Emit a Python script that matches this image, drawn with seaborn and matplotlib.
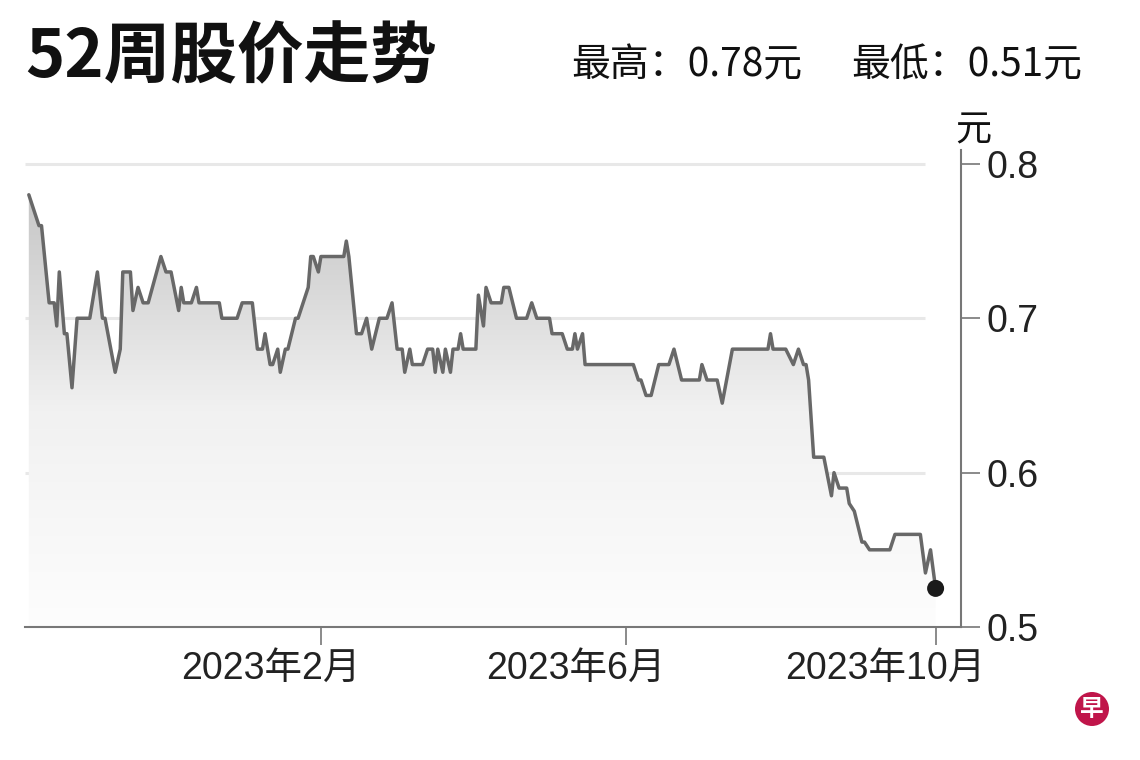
import numpy as np
import pandas as pd
import matplotlib
matplotlib.use("Agg")
import matplotlib.pyplot as plt
import matplotlib.dates as mdates
from matplotlib.patches import Ellipse
from matplotlib.colors import LinearSegmentedColormap
from matplotlib.transforms import ScaledTranslation
import seaborn as sns

# values
dates = [
    "2022-10-09", "2022-10-13", "2022-10-14", "2022-10-17", "2022-10-19", "2022-10-20",
    "2022-10-21", "2022-10-23", "2022-10-24", "2022-10-26", "2022-10-28",
    "2022-11-02", "2022-11-03", "2022-11-05", "2022-11-07", "2022-11-08", "2022-11-12",
    "2022-11-14", "2022-11-15", "2022-11-18", "2022-11-19", "2022-11-21", "2022-11-23",
    "2022-11-25", "2022-11-30",
    "2022-12-02", "2022-12-04", "2022-12-07", "2022-12-08", "2022-12-09", "2022-12-12",
    "2022-12-14", "2022-12-15", "2022-12-23", "2022-12-24", "2022-12-30",
    "2023-01-01", "2023-01-05", "2023-01-07", "2023-01-09", "2023-01-10", "2023-01-12",
    "2023-01-13", "2023-01-15", "2023-01-16", "2023-01-18", "2023-01-19", "2023-01-22",
    "2023-01-23", "2023-01-27", "2023-01-28", "2023-01-29", "2023-01-31",
    "2023-02-01", "2023-02-10", "2023-02-11", "2023-02-12", "2023-02-15", "2023-02-17",
    "2023-02-19", "2023-02-21", "2023-02-24", "2023-02-27",
    "2023-03-01", "2023-03-03", "2023-03-05", "2023-03-06", "2023-03-08", "2023-03-09",
    "2023-03-13", "2023-03-15", "2023-03-17", "2023-03-18", "2023-03-19", "2023-03-21",
    "2023-03-22", "2023-03-24", "2023-03-25", "2023-03-27", "2023-03-28", "2023-03-29",
    "2023-04-03", "2023-04-04", "2023-04-06", "2023-04-07", "2023-04-09", "2023-04-13",
    "2023-04-14", "2023-04-16", "2023-04-19", "2023-04-23", "2023-04-25", "2023-04-27",
    "2023-05-02", "2023-05-03", "2023-05-07", "2023-05-09", "2023-05-11", "2023-05-12",
    "2023-05-13", "2023-05-15", "2023-05-16",
    "2023-06-04", "2023-06-06", "2023-06-07", "2023-06-09", "2023-06-11", "2023-06-14",
    "2023-06-18", "2023-06-20", "2023-06-23", "2023-06-30",
    "2023-07-01", "2023-07-03", "2023-07-07", "2023-07-09", "2023-07-13", "2023-07-27",
    "2023-07-28", "2023-07-29",
    "2023-08-03", "2023-08-06", "2023-08-08", "2023-08-10", "2023-08-11", "2023-08-12",
    "2023-08-14", "2023-08-16", "2023-08-18", "2023-08-21", "2023-08-22", "2023-08-24",
    "2023-08-27", "2023-08-28", "2023-08-30",
    "2023-09-02", "2023-09-03", "2023-09-05", "2023-09-13", "2023-09-15", "2023-09-25",
    "2023-09-27", "2023-09-29", "2023-10-01",
]
prices = [
    0.78, 0.76, 0.76, 0.71, 0.71, 0.695, 0.73, 0.69, 0.69, 0.655,
    0.70, 0.70, 0.71, 0.73, 0.70, 0.70, 0.665, 0.68, 0.73, 0.73,
    0.705, 0.72, 0.71, 0.71, 0.74, 0.73, 0.73, 0.705, 0.72, 0.71,
    0.71, 0.72, 0.71, 0.71, 0.70, 0.70, 0.71, 0.71, 0.68, 0.68,
    0.69, 0.67, 0.67, 0.68, 0.665, 0.68, 0.68, 0.70, 0.70, 0.72,
    0.74, 0.74, 0.73, 0.74, 0.74, 0.75, 0.74, 0.69, 0.69, 0.70,
    0.68, 0.70, 0.70, 0.71, 0.68, 0.68, 0.665, 0.68, 0.67, 0.67,
    0.68, 0.68, 0.665, 0.68, 0.665, 0.68, 0.665, 0.68, 0.68, 0.69,
    0.68, 0.68, 0.715, 0.695, 0.72, 0.71, 0.71, 0.72, 0.72, 0.70,
    0.70, 0.71, 0.70, 0.70, 0.69, 0.69, 0.68, 0.68, 0.69, 0.68,
    0.69, 0.67, 0.67, 0.66, 0.66, 0.65, 0.65, 0.67, 0.67, 0.68,
    0.66, 0.66, 0.67, 0.66, 0.66, 0.645, 0.68, 0.68, 0.69, 0.68,
    0.68, 0.67, 0.68, 0.67, 0.67, 0.66, 0.61, 0.61, 0.61, 0.585,
    0.60, 0.59, 0.59, 0.58, 0.575, 0.555, 0.555, 0.55, 0.55, 0.56,
    0.56, 0.535, 0.55, 0.525,
]
y_ticks = [0.5, 0.6, 0.7, 0.8]
x_tick_dates = ["2023-02-01", "2023-06-01", "2023-10-01"]
x_tick_labels = ["2023年2月", "2023年6月", "2023年10月"]
title = "52周股价走势"
high_text = "最高：0.78元"
low_text = "最低：0.51元"
unit = "元"

df = pd.DataFrame({"date": pd.to_datetime(dates), "price": prices})

sns.set_style("white")
plt.rcParams["font.family"] = ["Liberation Sans", "Noto Sans CJK SC", "DejaVu Sans"]

fig = plt.figure(figsize=(11.4, 7.6), dpi=100)
ax = fig.add_axes([25 / 1140, 1 - 627 / 760, 936 / 1140, 477 / 760])

x0 = pd.Timestamp("2022-10-07 12:00")
x1 = pd.Timestamp("2023-10-11")
ax.set_xlim(x0, x1)
ax.set_ylim(0.5, 0.809)

# gradient under the line
grey = LinearSegmentedColormap.from_list("g", ["#fdfdfd", "#f1f1f1", "#c6c6c6"])
grad = np.linspace(0, 1, 256).reshape(-1, 1)
img = ax.imshow(grad, cmap=grey, origin="lower", aspect="auto",
                extent=[mdates.date2num(x0), mdates.date2num(x1), 0.5, 0.78],
                zorder=1)
poly = ax.fill_between(df["date"], df["price"], 0.5, color="none", lw=0)
img.set_clip_path(poly.get_paths()[0], transform=ax.transData)

sns.lineplot(data=df, x="date", y="price", ax=ax, color="#686868",
             linewidth=2.5, zorder=3)
ax.scatter(df["date"].iloc[-1], df["price"].iloc[-1], s=150, color="#1a1a1a",
           zorder=4, edgecolors="none")

# light horizontal guides that stop short of the right axis
ax.grid(False)
ax.hlines(y_ticks[1:], x0, pd.Timestamp("2023-09-27"), color="#e8e8e8",
          linewidth=2.2, zorder=0.5)

for s in ["left", "top"]:
    ax.spines[s].set_visible(False)
for s in ["right", "bottom"]:
    ax.spines[s].set_visible(True)
    ax.spines[s].set_color("#777777")
    ax.spines[s].set_linewidth(1.5)

ax.yaxis.tick_right()
ax.set_yticks(y_ticks)
ax.set_yticklabels([f"{v:.1f}" for v in y_ticks])
ax.set_xticks(pd.to_datetime(x_tick_dates))
ax.set_xticklabels(x_tick_labels)
ax.tick_params(axis="y", which="both", right=True, left=False, length=14,
               width=1.2, color="#777777", labelsize=27, pad=4,
               labelcolor="#222222")
ax.tick_params(axis="x", bottom=True, length=13, width=1.2, color="#777777",
               labelsize=27, pad=4, labelcolor="#222222")
shift = ScaledTranslation(-50 / 100, 0, fig.dpi_scale_trans)
for lab in ax.get_xticklabels():
    lab.set_transform(lab.get_transform() + shift)
ax.set_xlabel("")
ax.set_ylabel("")

fig.text(25 / 1140, 1 - 58 / 760, title, fontsize=48, fontweight="bold",
         family=["Noto Sans CJK SC"], ha="left", va="center", color="#111111")
fig.text(571 / 1140, 1 - 65 / 760, high_text, fontsize=28,
         family=["Noto Sans CJK SC"], ha="left", va="center", color="#111111")
fig.text(1082 / 1140, 1 - 65 / 760, low_text, fontsize=28,
         family=["Noto Sans CJK SC"], ha="right", va="center", color="#111111")
fig.text(973 / 1140, 1 - 130 / 760, unit, fontsize=26,
         family=["Noto Sans CJK SC"], ha="center", va="center", color="#111111")

# logo
fig.patches.append(Ellipse((1092 / 1140, 1 - 709 / 760), 34 / 1140, 34 / 760,
                           transform=fig.transFigure, facecolor="#c0154a",
                           edgecolor="none"))
fig.text(1092 / 1140, 1 - 709 / 760, "早", fontsize=17, fontweight="bold",
         family=["Noto Sans CJK SC"], ha="center", va="center", color="white")

fig.savefig("out.png", dpi=100)
